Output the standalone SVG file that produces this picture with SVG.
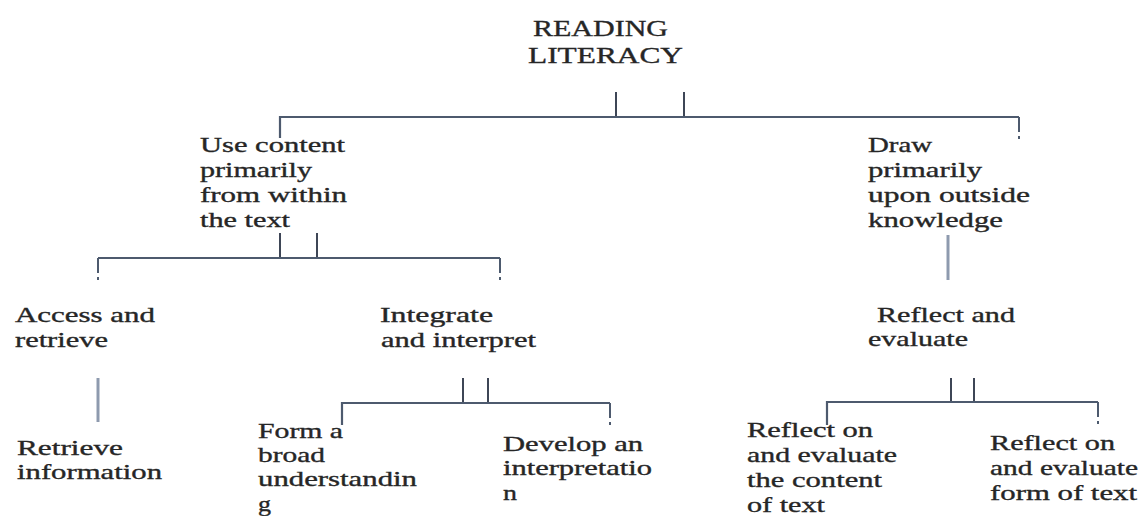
<svg xmlns="http://www.w3.org/2000/svg" width="1145" height="516" viewBox="0 0 1145 516">
<style>
  .t { font-family: "Liberation Serif", "Times New Roman", serif; font-size: 21px; fill: #262626; stroke: #262626; stroke-width: 0.35; }
  .title { font-size: 24px; }
  .ln { stroke: #4d5a6e; stroke-width: 2.2; fill: none; }
  .tk { stroke: #3e4656; stroke-width: 2; fill: none; }
  .gr { stroke: #8e9aae; stroke-width: 3; fill: none; }
  .end { stroke: #4d5a6e; stroke-width: 2; fill: none; stroke-dasharray: 15 4 3 20; }
</style>
<rect width="1145" height="516" fill="#ffffff"/>

<g id="connectors">
  <!-- top level -->
  <path class="tk" d="M616 92 V117 M684 92 V117"/>
  <path class="ln" d="M280 138 V117 H1019"/>
  <path class="end" d="M1019 117 V142"/>
  <!-- level 2 left -->
  <path class="tk" d="M280 233 V258 M317 233 V258"/>
  <path class="ln" d="M98 258 H500"/>
  <path class="end" d="M98 258 V283"/>
  <path class="end" d="M500 258 V283"/>
  <!-- gray stems -->
  <path class="gr" d="M98 378 V422"/>
  <path class="gr" d="M948 235 V280"/>
  <!-- level 3 left -->
  <path class="tk" d="M463 378 V403 M488 378 V403"/>
  <path class="ln" d="M342 425 V403 H610"/>
  <path class="end" d="M610 403 V428"/>
  <!-- level 3 right -->
  <path class="tk" d="M951 378 V402 M974 378 V402"/>
  <path class="ln" d="M827 425 V402 H1098"/>
  <path class="end" d="M1098 402 V428"/>
</g>

<g id="node-reading-literacy">
  <text class="t title" x="533" y="36" textLength="135" lengthAdjust="spacingAndGlyphs">READING</text>
  <text class="t title" x="528" y="63" textLength="155" lengthAdjust="spacingAndGlyphs">LITERACY</text>
</g>

<g id="node-use-content">
  <text class="t" x="200" y="152" textLength="145" lengthAdjust="spacingAndGlyphs">Use content</text>
  <text class="t" x="200" y="177" textLength="112" lengthAdjust="spacingAndGlyphs">primarily</text>
  <text class="t" x="200" y="202" textLength="147" lengthAdjust="spacingAndGlyphs">from within</text>
  <text class="t" x="200" y="227" textLength="90" lengthAdjust="spacingAndGlyphs">the text</text>
</g>

<g id="node-draw-outside">
  <text class="t" x="868" y="152" textLength="64" lengthAdjust="spacingAndGlyphs">Draw</text>
  <text class="t" x="868" y="177" textLength="114" lengthAdjust="spacingAndGlyphs">primarily</text>
  <text class="t" x="868" y="202" textLength="162" lengthAdjust="spacingAndGlyphs">upon outside</text>
  <text class="t" x="868" y="227" textLength="135" lengthAdjust="spacingAndGlyphs">knowledge</text>
</g>

<g id="node-access-retrieve">
  <text class="t" x="15" y="322" textLength="140" lengthAdjust="spacingAndGlyphs">Access  and</text>
  <text class="t" x="15" y="347" textLength="93" lengthAdjust="spacingAndGlyphs">retrieve</text>
</g>

<g id="node-integrate-interpret">
  <text class="t" x="380" y="322" textLength="113" lengthAdjust="spacingAndGlyphs">Integrate</text>
  <text class="t" x="381" y="347" textLength="155" lengthAdjust="spacingAndGlyphs">and interpret</text>
</g>

<g id="node-reflect-evaluate">
  <text class="t" x="877" y="322" textLength="138" lengthAdjust="spacingAndGlyphs">Reflect and</text>
  <text class="t" x="868" y="346" textLength="100" lengthAdjust="spacingAndGlyphs">evaluate</text>
</g>

<g id="node-retrieve-information">
  <text class="t" x="17" y="455" textLength="106" lengthAdjust="spacingAndGlyphs">Retrieve</text>
  <text class="t" x="17" y="479" textLength="145" lengthAdjust="spacingAndGlyphs">information</text>
</g>

<g id="node-form-broad">
  <text class="t" x="258" y="438" textLength="85" lengthAdjust="spacingAndGlyphs">Form a</text>
  <text class="t" x="258" y="462" textLength="67" lengthAdjust="spacingAndGlyphs">broad</text>
  <text class="t" x="258" y="486" textLength="159" lengthAdjust="spacingAndGlyphs">understandin</text>
  <text class="t" x="258" y="511" textLength="13" lengthAdjust="spacingAndGlyphs">g</text>
</g>

<g id="node-develop-interpretation">
  <text class="t" x="503" y="451" textLength="140" lengthAdjust="spacingAndGlyphs">Develop an</text>
  <text class="t" x="503" y="475" textLength="149" lengthAdjust="spacingAndGlyphs">interpretatio</text>
  <text class="t" x="503" y="500" textLength="14" lengthAdjust="spacingAndGlyphs">n</text>
</g>

<g id="node-reflect-content">
  <text class="t" x="747" y="437" textLength="126" lengthAdjust="spacingAndGlyphs">Reflect on</text>
  <text class="t" x="747" y="462" textLength="150" lengthAdjust="spacingAndGlyphs">and evaluate</text>
  <text class="t" x="747" y="487" textLength="135" lengthAdjust="spacingAndGlyphs">the content</text>
  <text class="t" x="747" y="512" textLength="78" lengthAdjust="spacingAndGlyphs">of text</text>
</g>

<g id="node-reflect-form">
  <text class="t" x="990" y="450" textLength="125" lengthAdjust="spacingAndGlyphs">Reflect on</text>
  <text class="t" x="990" y="475" textLength="148" lengthAdjust="spacingAndGlyphs">and evaluate</text>
  <text class="t" x="990" y="500" textLength="147" lengthAdjust="spacingAndGlyphs">form of text</text>
</g>
</svg>
